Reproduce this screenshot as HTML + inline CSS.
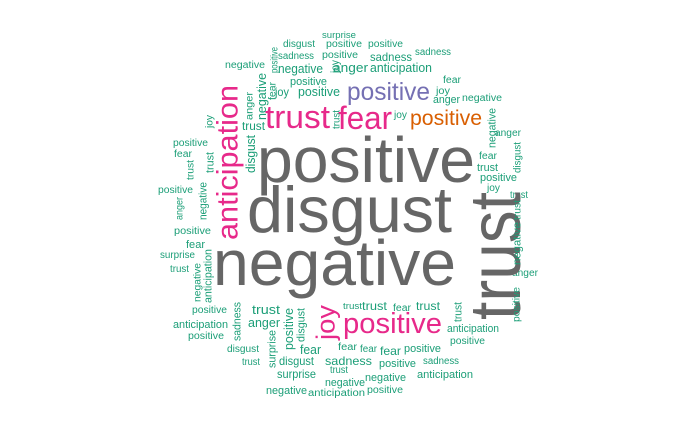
<!DOCTYPE html>
<html><head><meta charset="utf-8"><style>
html,body{margin:0;padding:0;background:#fff;width:700px;height:432px;overflow:hidden}
svg{display:block}
text{font-family:"Liberation Sans",Arial,sans-serif}
</style></head><body>
<svg id="cloud" width="700" height="432" viewBox="0 0 700 432" xmlns="http://www.w3.org/2000/svg"></svg>
<script>
var G="#666666",P="#e7298a",U="#7570b3",O="#d95f02",T="#1b9e77";
// horizontal words: [word, x0, x1, baseline, size, color]
var hWords=[
["positive",257,475,182,64,G],["disgust",247,452,232,65,G],["negative",213,456,285,64,G],
["trust",265,330,128,32,P],["fear",338,392,129,32,P],["positive",343,442,333,29,P],
["positive",347,430,100,25,U],["positive",410,482,125,21,O],
["surprise",322,356,38,9,T],["disgust",283,315,47,10,T],["positive",326,362,47,10,T],["positive",368,403,47,10,T],
["sadness",415,451,55,10,T],["sadness",278,314,59,10,T],["positive",322,358,58,10,T],["sadness",370,412,61,12,T],
["negative",225,265,68,10,T],["negative",278,323,73,13,T],["anger",333,368,72,13,T],["anticipation",370,432,72,13,T],
["positive",290,327,85,11,T],["joy",275,289,96,12,T],["positive",298,340,96,13,T],["trust",242,265,130,12,T],
["positive",173,208,146,10,T],["fear",174,192,157,10,T],["positive",158,193,193,10,T],
["fear",443,461,83,10,T],["joy",436,450,94,10,T],["anger",433,460,103,11,T],["negative",462,502,101,10,T],
["joy",394,407,118,10,T],["anger",495,521,136,10,T],["fear",479,497,159,10,T],["trust",477,498,171,11,T],
["positive",480,517,181,11,T],["joy",487,500,191,10,T],["trust",510,528,198,10,T],["anger",512,538,276,10,T],
["trust",343,362,309,9,T],["trust",362,387,310,12,T],["fear",393,411,311,10,T],["trust",416,440,310,12,T],
["anticipation",447,499,332,11,T],["positive",450,485,344,10,T],["fear",338,357,350,10,T],["fear",360,377,352,10,T],
["fear",380,401,355,12,T],["positive",404,441,352,11,T],["sadness",325,372,365,12,T],["positive",379,416,367,11,T],
["sadness",423,459,364,10,T],["trust",330,348,373,10,T],["negative",325,365,386,11,T],["negative",365,406,381,11,T],
["anticipation",417,473,378,11,T],["anticipation",308,365,396,10,T],["positive",367,403,393,10,T],
["positive",174,211,234,10,T],["fear",186,205,248,11,T],["surprise",160,195,258,10,T],["trust",170,189,272,10,T],
["positive",192,227,313,10,T],["anticipation",173,228,328,11,T],["positive",188,224,339,10,T],
["trust",252,280,314,13,T],["anger",248,280,327,13,T],["disgust",227,259,352,10,T],["trust",242,260,365,10,T],
["fear",300,321,354,13,T],["disgust",279,314,365,12,T],["surprise",277,316,378,12,T],["negative",266,307,394,11,T]
];
// vertical words (rotated -90): [word, xLeft, yTop, yBottom, size, color]
var vWords=[
["trust",466,192,320,72,G],["anticipation",215,85,240,30,P],["joy",315,305,340,26,P],
["positive",270,47,73,10,T],["joy",330,60,73,11,T],["fear",268,82,100,10,T],["negative",256,73,120,13,T],
["anger",245,92,120,10,T],["trust",332,110,129,10,T],["joy",205,115,128,10,T],["disgust",245,135,173,13,T],
["trust",205,152,173,11,T],["trust",186,160,180,10,T],["negative",198,182,220,11,T],["anger",175,197,220,10,T],
["negative",487,108,148,11,T],["disgust",513,142,173,10,T],["trust",513,200,220,10,T],["negative",512,222,265,11,T],
["positive",512,287,322,10,T],["trust",453,302,322,11,T],
["anticipation",203,249,303,11,T],["negative",193,263,302,10,T],["sadness",232,302,341,11,T],
["surprise",267,330,368,11,T],["positive",283,308,350,13,T],["disgust",296,308,342,11,T]
];
var svg=document.getElementById('cloud');
var NS="http://www.w3.org/2000/svg";
hWords.forEach(function(w,i){
  var t=document.createElementNS(NS,'text');
  t.setAttribute('x',w[1]);t.setAttribute('y',w[3]);
  t.setAttribute('font-size',w[4]);t.setAttribute('fill',w[5]);
  t.setAttribute('textLength',w[2]-w[1]);t.setAttribute('lengthAdjust','spacingAndGlyphs');
  
  
  t.textContent=w[0];svg.appendChild(t);
});
vWords.forEach(function(w,i){
  var t=document.createElementNS(NS,'text');
  var bx=w[1]+0.75*w[4];
  t.setAttribute('transform','translate('+bx+','+w[3]+') rotate(-90)');
  t.setAttribute('font-size',w[4]);t.setAttribute('fill',w[5]);
  t.setAttribute('textLength',w[3]-w[2]);t.setAttribute('lengthAdjust','spacingAndGlyphs');
  
  
  t.textContent=w[0];svg.appendChild(t);
});
</script>
</body></html>
